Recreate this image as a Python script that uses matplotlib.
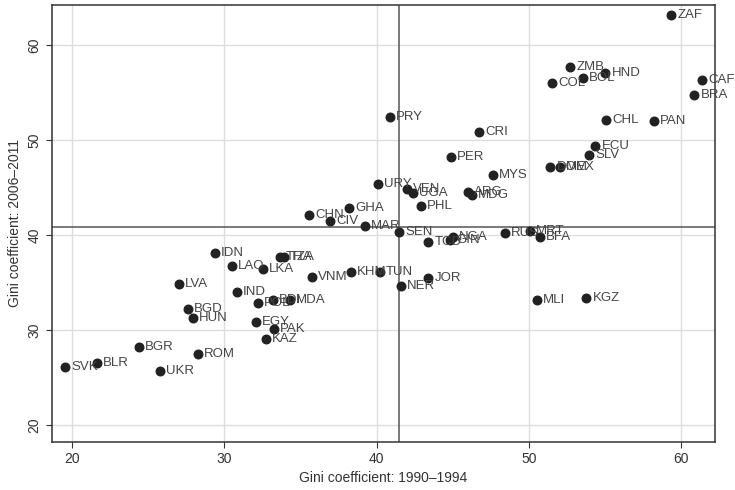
import matplotlib
matplotlib.use("Agg")
import matplotlib.pyplot as plt

# country codes and Gini coefficients (1990-1994, 2006-2011)
codes = ["ZAF", "ZMB", "HND", "BOL", "COL", "CAF", "BRA", "CHL", "PAN", "PRY",
         "CRI", "ECU", "SLV", "PER", "DOM", "MEX", "MYS", "URY", "VEN", "UGA",
         "ARG", "MDG", "PHL", "GHA", "CHN", "CIV", "MAR", "SEN", "TCD", "GIN",
         "NGA", "RUS", "MRT", "BFA", "IDN", "LAO", "LKA", "THA", "TZA", "VNM",
         "KHM", "TUN", "JOR", "NER", "MLI", "KGZ", "LVA", "IND", "POL", "BDI",
         "MDA", "BGD", "HUN", "EGY", "PAK", "KAZ", "BGR", "ROM", "BLR", "SVK",
         "UKR"]
gini_early = [59.33, 52.70, 55.00, 53.55, 51.52, 61.37, 60.84, 55.06, 58.21, 40.88,
              46.72, 54.34, 53.95, 44.89, 51.39, 52.04, 47.64, 40.09, 42.00, 42.39,
              46.00, 46.26, 42.92, 38.19, 35.56, 36.94, 39.24, 41.47, 43.38, 44.82,
              45.02, 48.43, 50.07, 50.73, 29.39, 30.50, 32.54, 33.66, 33.92, 35.76,
              38.32, 40.22, 43.38, 41.60, 50.53, 53.75, 27.03, 30.83, 32.21, 33.20,
              34.31, 27.62, 27.95, 32.08, 33.26, 32.74, 24.40, 28.27, 21.64, 19.54,
              25.78]
gini_late = [63.16, 57.68, 57.05, 56.53, 56.00, 56.32, 54.74, 52.10, 52.00, 52.42,
             50.84, 49.37, 48.42, 48.21, 47.16, 47.16, 46.32, 45.37, 44.84, 44.42,
             44.53, 44.21, 43.05, 42.84, 42.10, 41.47, 40.95, 40.32, 39.26, 39.47,
             39.79, 40.21, 40.42, 39.79, 38.10, 36.74, 36.42, 37.68, 37.68, 35.58,
             36.10, 36.10, 35.47, 34.63, 33.16, 33.37, 34.84, 34.00, 32.84, 33.16,
             33.16, 32.21, 31.26, 30.84, 30.10, 29.05, 28.21, 27.47, 26.53, 26.10,
             25.68]
mean_early = 41.47
mean_late = 40.84
ticks = [20, 30, 40, 50, 60]

plt.rcParams["font.family"] = ["Liberation Sans", "DejaVu Sans"]

fig = plt.figure(figsize=(7.35, 4.9), dpi=100)
ax = fig.add_axes([0.0707, 0.098, 0.902, 0.892])

ax.set_xlim(18.7, 62.2)
ax.set_ylim(18.2, 64.2)
ax.set_xticks(ticks)
ax.set_yticks(ticks)
ax.grid(True, color="#dddddd", linewidth=1)
ax.set_axisbelow(True)

ax.axvline(mean_early, color="#555555", linewidth=1.1, zorder=2)
ax.axhline(mean_late, color="#555555", linewidth=1.1, zorder=2)

ax.scatter(gini_early, gini_late, s=38, color="#222222", zorder=3)
for c, x, y in zip(codes, gini_early, gini_late):
    ax.annotate(c, (x, y), xytext=(4.5, 0), textcoords="offset points",
                va="center", ha="left", fontsize=9.5, color="#444444", zorder=4)

for s in ax.spines.values():
    s.set_color("#333333")
    s.set_linewidth(1.1)
ax.tick_params(colors="#333333", labelsize=10, length=4)
for lab in ax.get_yticklabels():
    lab.set_rotation(90)
    lab.set_va("center")

ax.set_xlabel("Gini coefficient: 1990\u20131994", fontsize=10, color="#333333", labelpad=3)
ax.set_ylabel("Gini coefficient: 2006\u20132011", fontsize=10, color="#333333", labelpad=4)

fig.savefig("out.png", dpi=100)
